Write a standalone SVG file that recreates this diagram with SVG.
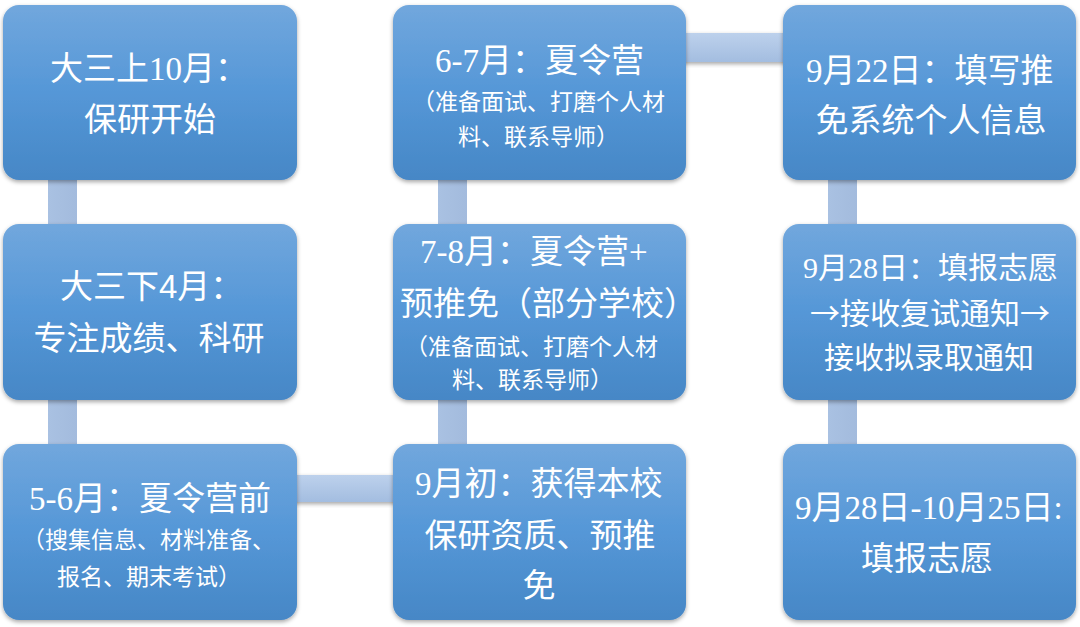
<svg xmlns="http://www.w3.org/2000/svg" width="1080" height="627" viewBox="0 0 1080 627">
<defs>
<linearGradient id="boxg" x1="0" y1="0" x2="0" y2="1">
<stop offset="0" stop-color="#71a7dd"/>
<stop offset="0.5" stop-color="#5597d7"/>
<stop offset="1" stop-color="#4687c6"/>
</linearGradient>
<linearGradient id="hbar" x1="0" y1="0" x2="0" y2="1">
<stop offset="0" stop-color="#bdd1ec"/>
<stop offset="1" stop-color="#a3bde0"/>
</linearGradient>
<linearGradient id="vbar" x1="0" y1="0" x2="1" y2="0">
<stop offset="0" stop-color="#a9c1e2"/>
<stop offset="1" stop-color="#a3bbdd"/>
</linearGradient>
<filter id="sh" x="-10%" y="-10%" width="120%" height="130%">
<feDropShadow dx="0" dy="2" stdDeviation="2" flood-color="#000" flood-opacity="0.35"/>
</filter>
</defs>
<style>
.box{fill:url(#boxg);filter:url(#sh);}
.hb{fill:url(#hbar);filter:url(#sh);}
.vb{fill:url(#vbar);}
text{fill:#ffffff;font-family:"Liberation Serif","Noto Sans CJK SC",sans-serif;}
.m{font-size:33px;}
.m30{font-size:30px;}
.s{font-size:23px;font-family:"Noto Sans CJK SC",sans-serif;}
.sans{font-family:"Liberation Sans","Noto Sans CJK SC",sans-serif;}
.cjk{font-family:"Noto Sans CJK SC",sans-serif;}
.c{text-anchor:middle;}
</style>
<rect width="1080" height="627" fill="#ffffff"/>
<g id="connectors">
<rect class="vb" x="48" y="175" width="29" height="55"/>
<rect class="vb" x="48" y="395" width="29" height="55"/>
<rect class="vb" x="438" y="175" width="29" height="55"/>
<rect class="vb" x="438" y="395" width="29" height="55"/>
<rect class="vb" x="828" y="175" width="29" height="55"/>
<rect class="vb" x="828" y="395" width="29" height="55"/>
<rect class="hb" x="680" y="33" width="110" height="29"/>
<rect class="hb" x="290" y="475" width="110" height="27"/>
</g>
<g id="n1">
<rect class="box" x="3" y="5" width="294" height="175" rx="16"/>
<text class="m" x="50" y="80">大三上10月：</text>
<text class="m c" x="150" y="131">保研开始</text>
</g>
<g id="n2">
<rect class="box" x="3" y="224" width="294" height="176" rx="16"/>
<text class="m" x="60" y="298">大三下<tspan class="sans">4</tspan>月：</text>
<text class="m c" x="149" y="350">专注成绩、科研</text>
</g>
<g id="n3">
<rect class="box" x="3" y="444" width="294" height="176" rx="16"/>
<text class="m" x="29" y="510">5-6月：夏令营前</text>
<text class="s" x="22" y="548">（搜集信息、材料准备、</text>
<text class="s" x="57" y="585">报名、期末考试）</text>
</g>
<g id="n4">
<rect class="box" x="393" y="5" width="293" height="175" rx="16"/>
<text class="m" x="435" y="72">6-7月：夏令营</text>
<text class="s" x="412" y="110">（准备面试、打磨个人材</text>
<text class="s" x="458" y="145">料、联系导师）</text>
</g>
<g id="n5">
<rect class="box" x="393" y="224" width="293" height="176" rx="16"/>
<text class="m" x="420" y="263">7-8月：夏令营+</text>
<text class="m" x="400" y="315">预推免（部分学校）</text>
<text class="s" x="405" y="355">（准备面试、打磨个人材</text>
<text class="s" x="452" y="388">料、联系导师）</text>
</g>
<g id="n6">
<rect class="box" x="393" y="444" width="293" height="176" rx="16"/>
<text class="m" x="415" y="495">9月初：获得本校</text>
<text class="m c" x="540" y="547">保研资质、预推</text>
<text class="m c" x="539" y="597">免</text>
</g>
<g id="n7">
<rect class="box" x="783" y="5" width="293" height="175" rx="16"/>
<text class="m" x="806" y="82">9月22日：填写推</text>
<text class="m c" x="931" y="132">免系统个人信息</text>
</g>
<g id="n8">
<rect class="box" x="783" y="224" width="293" height="176" rx="16"/>
<text class="m30" x="803" y="278">9月28日：填报志愿</text>
<text class="m30 c" x="930" y="324"><tspan class="cjk">→</tspan>接收复试通知<tspan class="cjk">→</tspan></text>
<text class="m30 c" x="929" y="368">接收拟录取通知</text>
</g>
<g id="n9">
<rect class="box" x="783" y="444" width="293" height="176" rx="16"/>
<text class="m" x="795" y="519">9月28日-10月25日:</text>
<text class="m c" x="927" y="570">填报志愿</text>
</g>
</svg>
